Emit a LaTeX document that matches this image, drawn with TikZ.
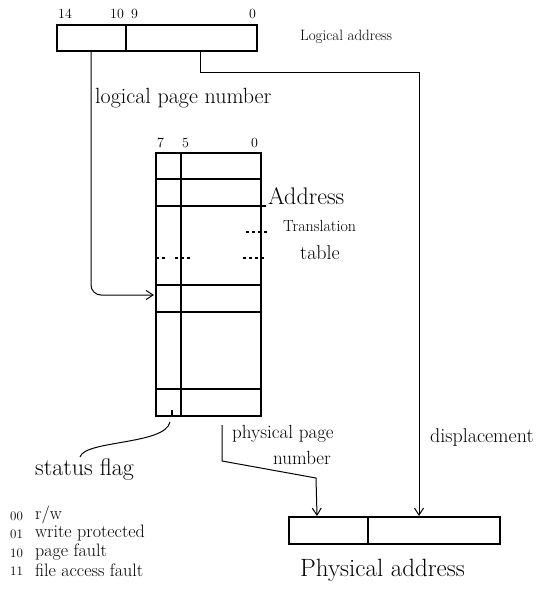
\documentclass[tikz,border=0pt]{standalone}
\usepackage{fontspec}
\usetikzlibrary{arrows.meta}
\tikzset{
  hand/.style={font=\fontsize{#1}{#1}\selectfont, inner sep=0pt, anchor=west},
  box/.style={line width=1.1pt},
  link/.style={line width=1pt},
  tip/.style={-{Straight Barb[length=7pt,width=9pt]}},
}
\begin{document}
\begin{tikzpicture}[x=1pt,y=-1pt]
\useasboundingbox (0,0) rectangle (536,599);
% logical address
\draw[box] (57,25) rectangle (257,51);
\draw[box] (126,25) -- (126,51);
\node[hand=14] (la14) at (58,14) {14};
\node[hand=14] (la10) at (110,14) {10};
\node[hand=14] (la9) at (131,14) {9};
\node[hand=14] (la0) at (249,14) {0};
\node[hand=15] (lalbl) at (300,37) {Logical address};
\coordinate (lpn) at (91,51);
\coordinate (disp) at (200,51);
\coordinate (dispturn) at (419,73);
\node[hand=22] (lpnlbl) at (95,98) {logical page number};
% address translation table
\draw[box] (156,153) rectangle (261,416);
\draw[box] (181,153) -- (181,416);
\foreach \y in {179,206,285,312,389}
  \draw[box] (156,\y) -- (261,\y);
\draw[box] (261,206) -- (266,206);
\draw[box,dashed] (246,232) -- (267,232);
\draw[box,dashed] (243,258) -- (267,258);
\draw[box,dashed] (156,258) -- (168,258);
\draw[box,dashed] (175,258) -- (190,258);
\draw[box] (172,410) -- (172,416);
\node[hand=14] (t7) at (157,143) {7};
\node[hand=14] (t5) at (182,143) {5};
\node[hand=14] (t0) at (251,143) {0};
\node[hand=24] (atlbl1) at (268,196) {Address};
\node[hand=16] (atlbl2) at (283,226) {Translation};
\node[hand=20] (atlbl3) at (300,253) {table};
\coordinate (tin) at (154,295);
\coordinate (ppn) at (222,425);
\coordinate (sf) at (170,422);
% status flag
\node[hand=24] (sflbl) at (35,470) {status flag};
\node[hand=13] (c00) at (10,516) {00};
\node[hand=18] (s00) at (35,515) {r/w};
\node[hand=13] (c01) at (10,534) {01};
\node[hand=18] (s01) at (35,533) {write protected};
\node[hand=13] (c10) at (10,553) {10};
\node[hand=18] (s10) at (35,552) {page fault};
\node[hand=13] (c11) at (10,571) {11};
\node[hand=18] (s11) at (35,570) {file access fault};
% physical address
\draw[box] (289,517) rectangle (500,544);
\draw[box] (368,517) -- (368,544);
\coordinate (pppn) at (317,516);
\coordinate (pdisp) at (419,516);
\node[hand=19] (ppnlbl1) at (232,434) {physical page};
\node[hand=19] (ppnlbl2) at (273,458) {number};
\node[hand=20] (displbl) at (430,438) {displacement};
\node[hand=25] (palbl) at (300,570) {Physical address};
% connectors
\draw[link,tip,rounded corners=10pt] (lpn) |- (tin);
\draw[link,tip] (disp) |- (dispturn) -- (pdisp);
\draw[link,tip] (ppn) -- (222,461) -- (316,478) -- (pppn);
\draw[link] (sf) .. controls (165,445) and (85,440) .. (80,457);
\end{tikzpicture}
\end{document}
